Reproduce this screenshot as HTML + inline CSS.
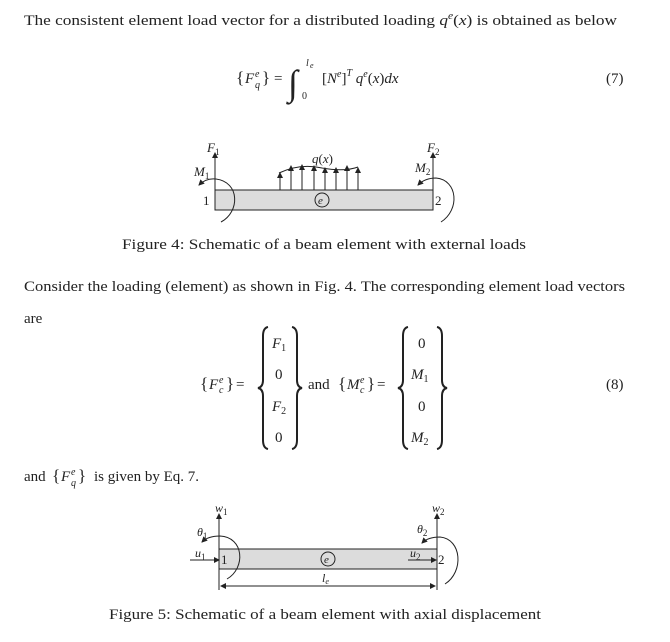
<!DOCTYPE html>
<html><head><meta charset="utf-8"><style>
html,body{margin:0;padding:0;background:#fff}
svg{display:block}
text{font-family:"Liberation Serif",serif;fill:#222}
.i{font-style:italic}
</style></head><body>
<svg width="670" height="642" viewBox="0 0 670 642" xmlns="http://www.w3.org/2000/svg">
<defs>
<marker id="a" markerWidth="6" markerHeight="6" refX="5" refY="3" orient="auto" markerUnits="userSpaceOnUse"><path d="M0,0 L6,3 L0,6 Z" fill="#222"/></marker>
</defs>
<g font-size="15">
<text x="24" y="25" textLength="593" lengthAdjust="spacingAndGlyphs">The consistent element load vector for a distributed loading <tspan class="i">q</tspan><tspan font-size="10" dy="-6" class="i">e</tspan><tspan dy="6">(</tspan><tspan class="i">x</tspan>) is obtained as below</text>

<!-- eq 7 -->
<text x="236" y="83" font-size="17">{</text>
<text x="245" y="83" class="i">F</text><text x="255" y="77" font-size="10" class="i">e</text><text x="255" y="88" font-size="10" class="i">q</text>
<text x="262" y="83" font-size="17">}</text>
<text x="274" y="83">=</text>
<text x="288" y="95" font-size="36" class="i">∫</text>
<text x="306" y="66" font-size="10" class="i">l</text><text x="310" y="68" font-size="8" class="i">e</text>
<text x="302" y="99" font-size="10">0</text>
<text x="322" y="83">[<tspan class="i">N</tspan><tspan font-size="10" dy="-6" class="i">e</tspan><tspan dy="6">]</tspan><tspan font-size="10" dy="-7" class="i">T</tspan><tspan dy="7" class="i"> q</tspan><tspan font-size="10" dy="-6" class="i">e</tspan><tspan dy="6">(</tspan><tspan class="i">x</tspan>)<tspan class="i">dx</tspan></text>
<text x="606" y="83">(7)</text>

<!-- fig 4 -->
<g stroke="#222" fill="none" stroke-width="1">
<rect x="215" y="190" width="218" height="20" fill="#dcdcdc"/>
<line x1="215" y1="190" x2="215" y2="153" marker-end="url(#a)"/>
<line x1="433" y1="190" x2="433" y2="153" marker-end="url(#a)"/>
<path d="M221,222 C240,212 240,182 216,179 C208,178 203,181 199,185" marker-end="url(#a)"/>
<path d="M441,222 C460,210 458,180 436,178 C428,178 422,181 418,185" marker-end="url(#a)"/>
<path d="M279,173 Q300,163 322,168 Q345,172 358,167"/>
<g marker-end="url(#a)">
<line x1="280" y1="190" x2="280" y2="173"/><line x1="291" y1="190" x2="291" y2="166"/><line x1="302" y1="190" x2="302" y2="165"/><line x1="314" y1="190" x2="314" y2="166"/><line x1="325" y1="190" x2="325" y2="168"/><line x1="336" y1="190" x2="336" y2="168"/><line x1="347" y1="190" x2="347" y2="166"/><line x1="358" y1="190" x2="358" y2="168"/>
</g>
<circle cx="322" cy="200" r="7"/>
</g>
<text x="207" y="152" font-size="13" class="i">F<tspan font-size="9" dy="3" font-style="normal">1</tspan></text>
<text x="427" y="152" font-size="13" class="i">F<tspan font-size="9" dy="3" font-style="normal">2</tspan></text>
<text x="194" y="176" font-size="13" class="i">M<tspan font-size="9" dy="3" font-style="normal">1</tspan></text>
<text x="415" y="172" font-size="13" class="i">M<tspan font-size="9" dy="3" font-style="normal">2</tspan></text>
<text x="312" y="163" font-size="13"><tspan class="i">q</tspan>(<tspan class="i">x</tspan>)</text>
<text x="203" y="205" font-size="13">1</text>
<text x="435" y="205" font-size="13">2</text>
<text x="318" y="204" font-size="11" class="i">e</text>

<text x="122" y="249" textLength="404" lengthAdjust="spacingAndGlyphs">Figure 4: Schematic of a beam element with external loads</text>

<text x="24" y="291" textLength="601" lengthAdjust="spacingAndGlyphs">Consider the loading (element) as shown in Fig. 4. The corresponding element load vectors</text>
<text x="24" y="323">are</text>

<!-- eq 8 -->
<text x="200" y="389" font-size="17">{</text><text x="209" y="389" class="i">F</text><text x="219" y="383" font-size="10" class="i">e</text><text x="219" y="393" font-size="10" class="i">c</text><text x="226" y="389" font-size="17">}</text>
<text x="236" y="389">=</text>
<g stroke="#222" fill="none" stroke-width="2">
<path d="M268,327 Q263,328 263,336 L263,380 Q263,387 258,388 Q263,389 263,396 L263,440 Q263,448 268,449"/>
<path d="M292,327 Q297,328 297,336 L297,380 Q297,387 302,388 Q297,389 297,396 L297,440 Q297,448 292,449"/>
<path d="M408,327 Q403,328 403,336 L403,380 Q403,387 398,388 Q403,389 403,396 L403,440 Q403,448 408,449"/>
<path d="M437,327 Q442,328 442,336 L442,380 Q442,387 447,388 Q442,389 442,396 L442,440 Q442,448 437,449"/>
</g>
<text x="272" y="348" class="i">F<tspan font-size="10" dy="3" font-style="normal">1</tspan></text>
<text x="275" y="379">0</text>
<text x="272" y="411" class="i">F<tspan font-size="10" dy="3" font-style="normal">2</tspan></text>
<text x="275" y="442">0</text>
<text x="308" y="389">and</text>
<text x="338" y="389" font-size="17">{</text><text x="347" y="389" class="i">M</text><text x="360" y="383" font-size="10" class="i">e</text><text x="360" y="393" font-size="10" class="i">c</text><text x="367" y="389" font-size="17">}</text>
<text x="377" y="389">=</text>
<text x="418" y="348">0</text>
<text x="411" y="379" class="i">M<tspan font-size="10" dy="3" font-style="normal">1</tspan></text>
<text x="418" y="411">0</text>
<text x="411" y="442" class="i">M<tspan font-size="10" dy="3" font-style="normal">2</tspan></text>
<text x="606" y="389">(8)</text>

<text x="24" y="481">and</text>
<text x="52" y="481" font-size="17">{</text><text x="61" y="481" class="i">F</text><text x="71" y="475" font-size="10" class="i">e</text><text x="71" y="486" font-size="10" class="i">q</text><text x="78" y="481" font-size="17">}</text>
<text x="94" y="481">is given by Eq. 7.</text>

<!-- fig 5 -->
<g stroke="#222" fill="none" stroke-width="1">
<rect x="219" y="549" width="218" height="20" fill="#dcdcdc"/>
<line x1="219" y1="590" x2="219" y2="514" marker-end="url(#a)"/>
<line x1="437" y1="590" x2="437" y2="514" marker-end="url(#a)"/>
<path d="M227,579 C246,568 244,537 220,536 C212,536 206,538 202,542" marker-end="url(#a)"/>
<path d="M445,584 C464,572 462,539 440,537 C432,537 426,539 422,543" marker-end="url(#a)"/>
<line x1="190" y1="560" x2="219" y2="560" marker-end="url(#a)"/>
<line x1="408" y1="560" x2="436" y2="560" marker-end="url(#a)"/>
<line x1="221" y1="586" x2="435" y2="586" marker-end="url(#a)"/>
<line x1="435" y1="586" x2="221" y2="586" marker-end="url(#a)"/>
<circle cx="328" cy="559" r="7"/>
</g>
<text x="215" y="512" font-size="12" class="i">w<tspan font-size="9" dy="3" font-style="normal">1</tspan></text>
<text x="432" y="512" font-size="12" class="i">w<tspan font-size="9" dy="3" font-style="normal">2</tspan></text>
<text x="197" y="536" font-size="12" class="i">θ<tspan font-size="9" dy="3" font-style="normal">1</tspan></text>
<text x="417" y="533" font-size="12" class="i">θ<tspan font-size="9" dy="3" font-style="normal">2</tspan></text>
<text x="195" y="557" font-size="12" class="i">u<tspan font-size="9" dy="3" font-style="normal">1</tspan></text>
<text x="410" y="557" font-size="12" class="i">u<tspan font-size="9" dy="3" font-style="normal">2</tspan></text>
<text x="221" y="564" font-size="13">1</text>
<text x="438" y="564" font-size="13">2</text>
<text x="324" y="563" font-size="11" class="i">e</text>
<text x="322" y="582" font-size="12" class="i">l<tspan font-size="8" dy="2">e</tspan></text>

<text x="109" y="619" textLength="432" lengthAdjust="spacingAndGlyphs">Figure 5: Schematic of a beam element with axial displacement</text>
</g>
</svg>
</body></html>
